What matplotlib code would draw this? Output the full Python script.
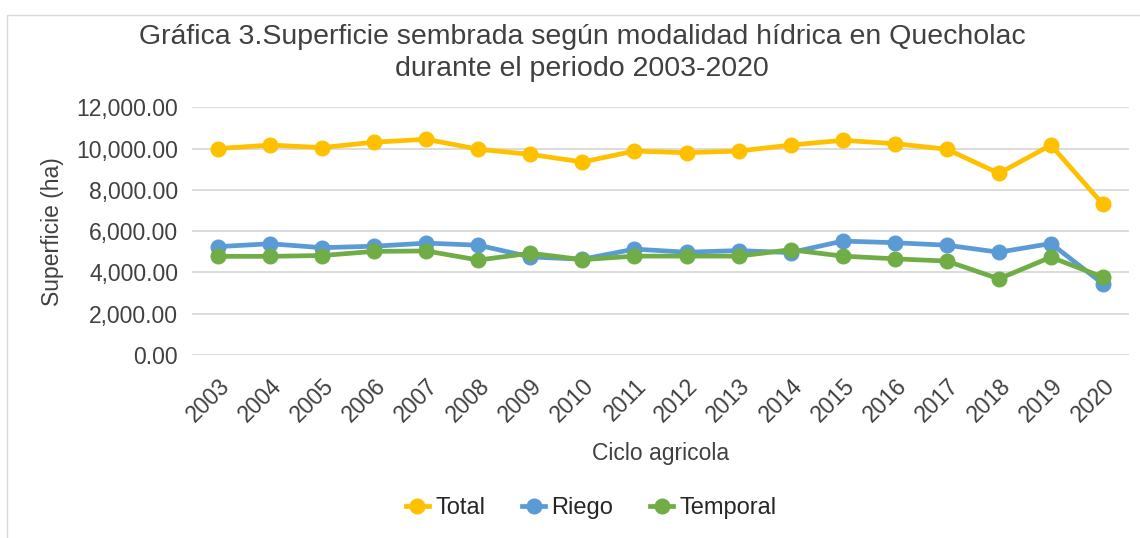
import matplotlib
matplotlib.use("Agg")
import matplotlib.pyplot as plt
from matplotlib.patches import Rectangle
from matplotlib.ticker import FuncFormatter

plt.rcParams['font.family'] = ['Liberation Sans', 'DejaVu Sans']

years = ["2003", "2004", "2005", "2006", "2007", "2008", "2009", "2010", "2011",
         "2012", "2013", "2014", "2015", "2016", "2017", "2018", "2019", "2020"]
total = [10000, 10170, 10050, 10310, 10450, 9970, 9720, 9350, 9880,
         9800, 9880, 10170, 10400, 10240, 9970, 8800, 10170, 7300]
riego = [5250, 5390, 5200, 5270, 5420, 5320, 4750, 4640, 5130,
         4980, 5060, 4960, 5520, 5440, 5320, 4980, 5400, 3450]
temporal = [4780, 4780, 4820, 5020, 5040, 4600, 4930, 4620, 4790,
            4790, 4790, 5100, 4790, 4660, 4550, 3690, 4740, 3770]

fig = plt.figure(figsize=(11.4, 5.38), dpi=100)
fig.patches.append(Rectangle((7 / 1140, -0.1), 1.2, 1 - 15 / 538 + 0.1,
                             transform=fig.transFigure, fill=False,
                             edgecolor='#D9D9D9', linewidth=1))

ax = fig.add_axes([192 / 1140, 1 - 355 / 538, (1129 - 192) / 1140, (355 - 107.3) / 538])
x = range(len(years))
ax.plot(x, total, color='#FFC000', lw=3.4, marker='o', ms=10.5, label='Total')
ax.plot(x, riego, color='#5B9BD5', lw=3.4, marker='o', ms=10.5, label='Riego')
ax.plot(x, temporal, color='#70AD47', lw=3.4, marker='o', ms=10.5, label='Temporal')

ax.set_xlim(-0.5, len(years) - 0.5)
ax.set_ylim(0, 12000)
ax.set_yticks(range(0, 12001, 2000))
ax.yaxis.set_major_formatter(FuncFormatter(lambda v, p: f"{v:,.2f}"))
ax.set_xticks(list(x))
ax.set_xticklabels(years, rotation=45, ha='right', rotation_mode='anchor')
ax.tick_params(axis='both', length=0, labelsize=16.5, colors='#404040')
ax.tick_params(axis='y', pad=10)
ax.tick_params(axis='x', pad=14)
for s in ax.spines.values():
    s.set_visible(False)
ax.grid(axis='y', color='#D9D9D9', lw=1.3)
ax.set_axisbelow(True)

ax.set_xlabel("Ciclo agricola", fontsize=16.5, color='#404040', labelpad=11)
ax.set_ylabel("Superficie (ha)", fontsize=16.5, color='#404040', labelpad=9)

fig.text(582 / 1140, 1 - 53 / 538,
         "Gráfica 3.Superficie sembrada según modalidad hídrica en Quecholac\ndurante el periodo 2003-2020",
         ha='center', va='center', fontsize=20.5, color='#404040', linespacing=1.32)

fig.legend(loc='center', bbox_to_anchor=(591 / 1140, 1 - 508 / 538), ncol=3,
           frameon=False, fontsize=17, handlelength=1.0, handletextpad=0.25,
           columnspacing=1.55, labelcolor='#262626')

fig.savefig("out.png", dpi=100)
